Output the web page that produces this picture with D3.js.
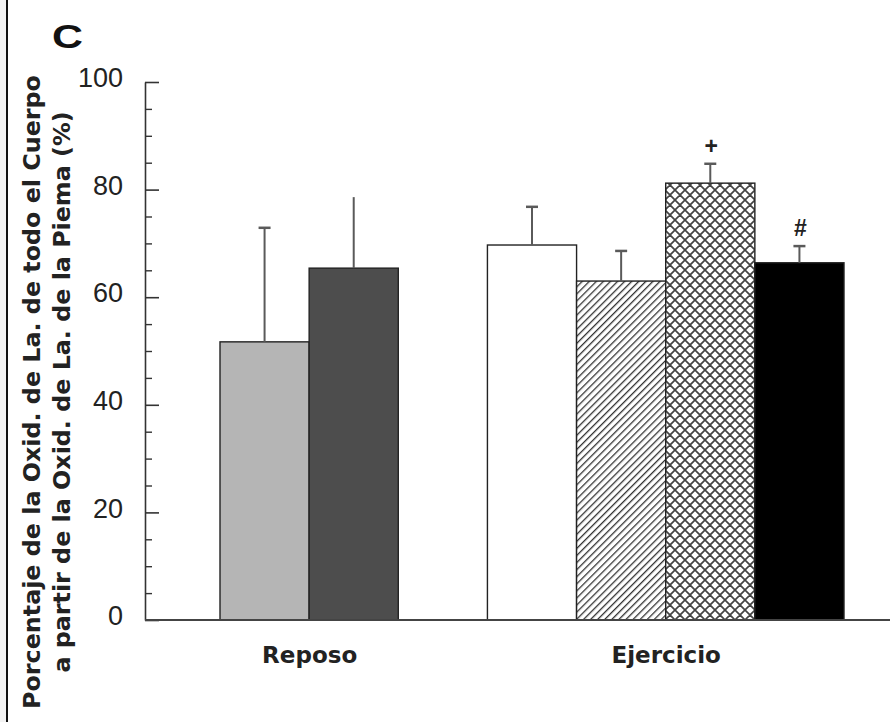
<!DOCTYPE html>
<html>
<head>
<meta charset="utf-8">
<script src="https://cdn.jsdelivr.net/npm/d3@7"></script>
<style>
  body { margin: 0; background: #fff; }
  svg { display: block; }
</style>
</head>
<body>
<div id="chart"></div>
<script>
// panel C - % of whole-body lactate oxidation coming from the leg
const groups = ["Reposo", "Ejercicio"];
const barIds = ["Reposo-1", "Reposo-2", "hueco", "Ejercicio-1", "Ejercicio-2", "Ejercicio-3", "Ejercicio-4"];
const barGroup = ["Reposo", "Reposo", "Ejercicio", "Ejercicio", "Ejercicio", "Ejercicio"];
const values = [51.7, 65.4, 69.7, 63.0, 81.2, 66.4];
const errors = [21.2, 13.2, 7.1, 5.6, 3.6, 3.1];
const marks = ["", "", "", "", "+", "#"];
const yTicks = [0, 20, 40, 60, 80, 100];
const yMinor = [5, 10, 15, 25, 30, 35, 45, 50, 55, 65, 70, 75, 85, 90, 95];

// styles
const fills = ["#b5b5b5", "#4d4d4d", "#fff", "url(#hatch)", "url(#cross)", "#000"];
const hasCap = [true, false, true, true, true, true];

const width = 894, height = 722;

const svg = d3.select("#chart").append("svg")
  .attr("width", width)
  .attr("height", height);

const defs = svg.append("defs");
const hatch = defs.append("pattern")
  .attr("id", "hatch")
  .attr("patternUnits", "userSpaceOnUse")
  .attr("width", 5).attr("height", 5)
  .attr("patternTransform", "rotate(45)");
hatch.append("rect").attr("width", 5).attr("height", 5).attr("fill", "#fff");
hatch.append("line")
  .attr("x1", 0).attr("y1", 0).attr("x2", 0).attr("y2", 5)
  .attr("stroke", "#333").attr("stroke-width", 2.6);

const cross = defs.append("pattern")
  .attr("id", "cross")
  .attr("patternUnits", "userSpaceOnUse")
  .attr("width", 10).attr("height", 10)
  .attr("x", 665).attr("y", 0);
cross.append("rect").attr("width", 10).attr("height", 10).attr("fill", "#fff");
cross.append("path")
  .attr("d", "M0,0L10,10M10,0L0,10M-5,5L0,10M5,-5L15,5M-5,5L5,-5M5,15L15,5")
  .attr("stroke", "#444").attr("stroke-width", 1.7).attr("fill", "none");

// left frame
svg.append("rect").attr("x", 0).attr("y", 0).attr("width", 6).attr("height", height).attr("fill", "#f3f3f3");
svg.append("line")
  .attr("x1", 7).attr("x2", 7).attr("y1", 0).attr("y2", height)
  .attr("stroke", "#111").attr("stroke-width", 2);

const y = d3.scaleLinear().domain([0, 100]).range([620, 82]);
const x = d3.scaleBand().domain(barIds).range([220, 844]).padding(0);
const ids = barIds.filter(d => d !== "hueco");

// group centres for the category labels
const groupCentre = groups.map(g => {
  const xs = ids.filter((d, i) => barGroup[i] === g);
  return (x(xs[0]) + x(xs[xs.length - 1]) + x.bandwidth()) / 2;
});
const xGroups = d3.scaleOrdinal().domain(groups).range(groupCentre);

// bars
svg.append("g")
  .selectAll("rect")
  .data(values)
  .join("rect")
  .attr("x", (d, i) => x(ids[i]))
  .attr("y", d => y(d))
  .attr("width", x.bandwidth())
  .attr("height", d => y(0) - y(d))
  .attr("fill", (d, i) => fills[i])
  .attr("stroke", "#222")
  .attr("stroke-width", 1.4);

// error bars
const eb = svg.append("g").attr("stroke", "#5a5a5a").attr("stroke-width", 2);
values.forEach((v, i) => {
  const cx = x(ids[i]) + x.bandwidth() / 2;
  eb.append("line")
    .attr("x1", cx).attr("x2", cx)
    .attr("y1", y(v)).attr("y2", y(v + errors[i]));
  if (hasCap[i]) {
    eb.append("line")
      .attr("x1", cx - 6).attr("x2", cx + 6)
      .attr("y1", y(v + errors[i])).attr("y2", y(v + errors[i]))
      .attr("stroke-width", 2.5);
  }
});

// significance marks
svg.append("g")
  .selectAll("text")
  .data(values)
  .join("text")
  .attr("x", (d, i) => x(ids[i]) + x.bandwidth() / 2 + 1)
  .attr("y", (d, i) => y(d + errors[i]) - 10)
  .attr("text-anchor", "middle")
  .style("font-family", "'Liberation Sans', Arial, sans-serif")
  .style("font-size", "23px")
  .style("font-weight", "bold")
  .attr("fill", "#222")
  .text((d, i) => marks[i]);

// y axis
const yAxis = svg.append("g")
  .attr("transform", "translate(145,0)")
  .call(d3.axisLeft(y).tickValues(yTicks).tickSize(-14).tickSizeOuter(0).tickPadding(22));
yAxis.select(".domain").attr("stroke", "#333").attr("stroke-width", 1.6);
yAxis.selectAll(".tick line").attr("stroke", "#333").attr("stroke-width", 1.6);
yAxis.selectAll(".tick text")
  .attr("dy", "0.32em")
  .attr("y", -4)
  .attr("fill", "#222")
  .style("font-family", "'Liberation Sans', Arial, sans-serif")
  .style("font-size", "27px");

svg.append("g")
  .attr("transform", "translate(145,0)")
  .call(d3.axisLeft(y).tickValues(yMinor).tickSize(-7).tickFormat(""))
  .call(g => g.select(".domain").remove())
  .selectAll(".tick line").attr("stroke", "#333").attr("stroke-width", 1.4);

// baseline + group labels
svg.append("line")
  .attr("x1", 145).attr("x2", 890)
  .attr("y1", y(0)).attr("y2", y(0))
  .attr("stroke", "#444").attr("stroke-width", 1.8);

const xAxis = svg.append("g")
  .attr("transform", `translate(0,${y(0)})`)
  .call(d3.axisBottom(xGroups).tickSize(0).tickPadding(27));
xAxis.select(".domain").remove();
xAxis.selectAll(".tick text")
  .attr("fill", "#222")
  .style("font-family", "'DejaVu Sans', Verdana, sans-serif")
  .style("font-weight", "bold")
  .style("font-size", "23px");

// y title, two lines
const title = svg.append("text")
  .attr("transform", "translate(0,392) rotate(-90)")
  .attr("text-anchor", "middle")
  .attr("fill", "#222")
  .style("font-family", "'DejaVu Sans', Verdana, sans-serif")
  .style("font-weight", "bold")
  .style("font-size", "23.8px");
title.append("tspan").attr("x", 0).attr("y", 40).text("Porcentaje de la Oxid. de La. de todo el Cuerpo");
title.append("tspan").attr("x", 0).attr("y", 70).text("a partir de la Oxid. de La. de la Piema (%)");

// panel letter
svg.append("text")
  .attr("x", 52).attr("y", 48)
  .attr("textLength", 31)
  .attr("lengthAdjust", "spacingAndGlyphs")
  .style("font-family", "'Liberation Sans', Arial, sans-serif")
  .style("font-weight", "bold")
  .style("font-size", "33px")
  .attr("fill", "#111")
  .text("C");
</script>
</body>
</html>
